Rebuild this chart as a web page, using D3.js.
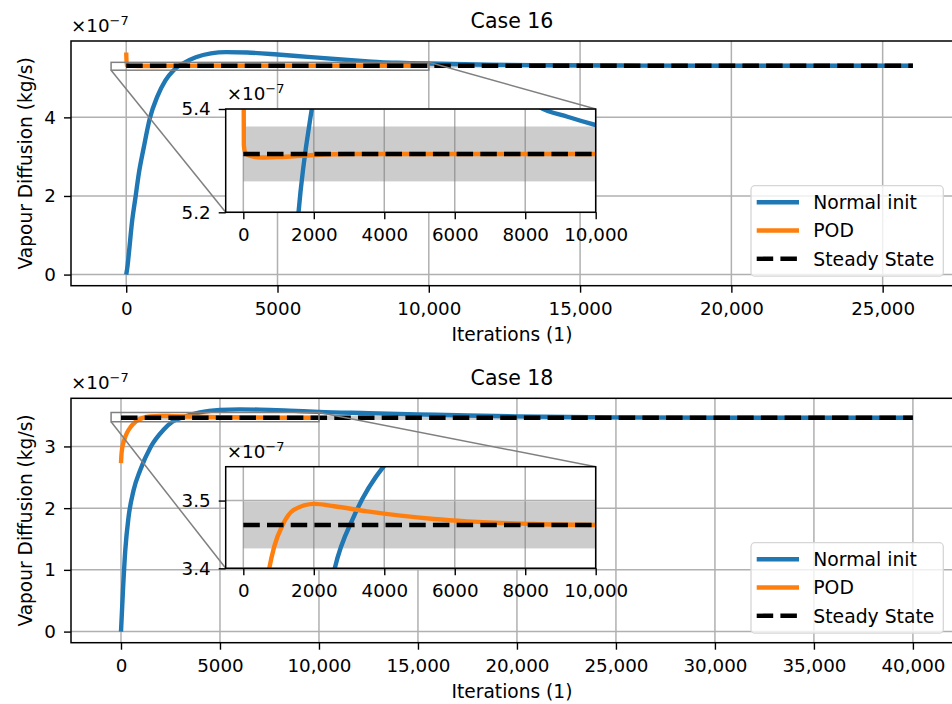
<!DOCTYPE html>
<html>
<head>
<meta charset="utf-8">
<script src="https://cdn.jsdelivr.net/npm/d3@7"></script>
<style>
  body { margin: 0; background: #fff; }
  svg text { font-family: "DejaVu Sans", sans-serif; fill: #000; }
</style>
</head>
<body>
<div id="chart"></div>
<script>
// values are in units of 1e-7 kg/s, x is the iteration count
const seriesNames = ["Normal init", "POD", "Steady State"];
const titles = ["Case 16", "Case 18"];

const case16Normal = [
  [0, 0], [40, 0.2], [86, 0.53], [198, 1.38], [307, 1.97], [416, 2.57], [581, 3.24],
  [779, 3.97], [1023, 4.52], [1297, 4.94], [1567, 5.2], [1943, 5.4], [2300, 5.53],
  [2800, 5.63], [3300, 5.66], [4000, 5.65], [5000, 5.6], [6000, 5.54], [7000, 5.48],
  [8000, 5.425], [8400, 5.404], [9200, 5.385], [10000, 5.369], [12000, 5.34],
  [14000, 5.325], [17000, 5.317], [20000, 5.314], [26000, 5.313]
];
const case16Pod = [
  [0, 5.65], [15, 5.33], [60, 5.315], [200, 5.309], [500, 5.306], [1000, 5.307],
  [2000, 5.311], [3000, 5.313], [10000, 5.313]
];
const case16Steady = 5.313;
const case16Iterations = [0, 26000];

const case18Normal = [
  [0, 0], [101, 0.675], [217, 1.32], [384, 1.86], [636, 2.29], [974, 2.62], [1479, 2.98],
  [2151, 3.27], [2595, 3.4], [3141, 3.477], [3990, 3.551], [5000, 3.59], [6000, 3.6],
  [7000, 3.596], [8500, 3.58], [10000, 3.56], [12500, 3.54], [15000, 3.52], [17500, 3.501],
  [20000, 3.487], [22500, 3.477], [25000, 3.471], [30000, 3.466], [35000, 3.4645], [40000, 3.464]
];
const case18Pod = [
  [0, 2.73], [20, 2.85], [60, 2.97], [150, 3.09], [300, 3.22], [500, 3.32], [736, 3.4],
  [877, 3.432], [1115, 3.464], [1443, 3.4866], [2009, 3.4951], [2575, 3.4916], [3520, 3.484],
  [4463, 3.4777], [5405, 3.4728], [6349, 3.4693], [7292, 3.4669], [8235, 3.4654], [10000, 3.464]
];
const case18Steady = 3.464;
const case18Iterations = [0, 40000];

// axis ticks
const case16XTicks = [0, 5000, 10000, 15000, 20000, 25000];
const case16YTicks = [0, 2, 4];
const case18XTicks = [0, 5000, 10000, 15000, 20000, 25000, 30000, 35000, 40000];
const case18YTicks = [0, 1, 2, 3];
const insetXTicks = [0, 2000, 4000, 6000, 8000, 10000];
const case16InsetYTicks = [5.2, 5.4];
const case18InsetYTicks = [3.4, 3.5];

// zoom window of the insets
const insetIterations = [-500, 10000];
const case16InsetY = [5.2, 5.4];
const case18InsetY = [3.4, 3.55];

const width = 952, height = 704;
const colors = {normal: "#1f77b4", pod: "#ff7f0e", steady: "#000"};
const lw = 4.4;
const dash = "16.5,7.2";
const fs = 18.3;

const svg = d3.create("svg")
  .attr("width", width)
  .attr("height", height);

const fmtX = d => d >= 10000 ? d3.format(",")(d) : String(d);

function drawPanel(p, idx) {
  const g = svg.append("g");

  const xMin = insetIterations[0];
  const xMax = d3.max(p.normal, d => d[0]);
  const xPad = 0.05 * (xMax - xMin);
  const yMax = d3.max(p.normal.concat(p.pod), d => d[1]);
  const yPad = 0.05 * yMax;

  const x = d3.scaleLinear().domain([xMin - xPad, xMax + xPad]).range([p.left, p.right]);
  const y = d3.scaleLinear().domain([-yPad, yMax + yPad]).range([p.bottom, p.top]);

  const clipId = "clip" + idx;
  svg.append("clipPath").attr("id", clipId)
    .append("rect")
    .attr("x", p.left).attr("y", p.top)
    .attr("width", p.right - p.left).attr("height", p.bottom - p.top);

  // grid
  g.append("g").selectAll("line").data(p.xTicks).join("line")
    .attr("x1", d => x(d)).attr("x2", d => x(d))
    .attr("y1", p.top).attr("y2", p.bottom)
    .attr("stroke", "#b0b0b0").attr("stroke-width", 1.5);
  g.append("g").selectAll("line").data(p.yTicks).join("line")
    .attr("x1", p.left).attr("x2", p.right)
    .attr("y1", d => y(d)).attr("y2", d => y(d))
    .attr("stroke", "#b0b0b0").attr("stroke-width", 1.5);

  // axes
  const xAxis = g.append("g")
    .attr("transform", `translate(0,${p.bottom})`)
    .call(d3.axisBottom(x).tickValues(p.xTicks).tickFormat(fmtX).tickSize(7).tickPadding(9));
  const yAxis = g.append("g")
    .attr("transform", `translate(${p.left},0)`)
    .call(d3.axisLeft(y).tickValues(p.yTicks).tickFormat(d3.format("d")).tickSize(7).tickPadding(8));
  [xAxis, yAxis].forEach(a => {
    a.select(".domain").remove();
    a.selectAll(".tick line").attr("stroke", "#000").attr("stroke-width", 1.4);
    a.selectAll(".tick text").attr("font-size", fs).attr("font-family", "DejaVu Sans");
  });

  const plot = g.append("g").attr("clip-path", `url(#${clipId})`);

  // +-1% band around steady state
  plot.append("rect")
    .attr("x", x(p.iterations[0]))
    .attr("width", x(p.iterations[1]) - x(p.iterations[0]))
    .attr("y", y(p.steady * 1.01))
    .attr("height", y(p.steady * 0.99) - y(p.steady * 1.01))
    .attr("fill", "gray").attr("opacity", 0.4);

  const line = d3.line().x(d => x(d[0])).y(d => y(d[1])).curve(d3.curveMonotoneX);

  plot.append("path").datum(p.normal)
    .attr("d", line).attr("fill", "none")
    .attr("stroke", colors.normal).attr("stroke-width", lw).attr("stroke-linejoin", "round");
  plot.append("path").datum(p.pod)
    .attr("d", line).attr("fill", "none")
    .attr("stroke", colors.pod).attr("stroke-width", lw).attr("stroke-linejoin", "round");
  plot.append("path").datum(p.iterations.map(i => [i, p.steady]))
    .attr("d", d3.line().x(d => x(d[0])).y(d => y(d[1])))
    .attr("fill", "none")
    .attr("stroke", colors.steady).attr("stroke-width", lw).attr("stroke-dasharray", dash);

  // zoom indicator rectangle
  const ix0 = x(insetIterations[0]), ix1 = x(insetIterations[1]);
  const iy0 = y(p.insetY[1]), iy1 = y(p.insetY[0]);
  g.append("rect")
    .attr("x", ix0).attr("y", iy0)
    .attr("width", ix1 - ix0).attr("height", iy1 - iy0)
    .attr("fill", "none").attr("stroke", "#808080").attr("stroke-width", 1.5);

  // frame
  g.append("rect")
    .attr("x", p.left).attr("y", p.top)
    .attr("width", p.right - p.left).attr("height", p.bottom - p.top)
    .attr("fill", "none").attr("stroke", "#000").attr("stroke-width", 1.5);

  // legend
  const lg = g.append("g").attr("transform", `translate(751,${p.legendTop})`);
  lg.append("rect")
    .attr("width", 192.3).attr("height", 90.5).attr("rx", 4)
    .attr("fill", "#fff").attr("fill-opacity", 0.8)
    .attr("stroke", "#d6d6d6").attr("stroke-width", 1.3);
  const legendStyles = [
    {color: colors.normal, dash: null},
    {color: colors.pod, dash: null},
    {color: colors.steady, dash: dash}
  ];
  seriesNames.forEach((name, i) => {
    const cy = 16.5 + i * 28.3;
    lg.append("line")
      .attr("x1", 5.7).attr("x2", 48).attr("y1", cy).attr("y2", cy)
      .attr("stroke", legendStyles[i].color).attr("stroke-width", lw)
      .attr("stroke-dasharray", legendStyles[i].dash);
    lg.append("text")
      .attr("x", 62.3).attr("y", cy + 6.8)
      .attr("font-size", 18.8)
      .text(name);
  });

  // titles and labels
  const cx = (p.left + 953) / 2;
  g.append("text")
    .attr("x", cx).attr("y", p.top - 13)
    .attr("text-anchor", "middle").attr("font-size", 20.5)
    .text(p.title);
  g.append("text")
    .attr("x", cx).attr("y", p.bottom + 55.5)
    .attr("text-anchor", "middle").attr("font-size", 18.6)
    .text("Iterations (1)");
  g.append("text")
    .attr("transform", `translate(31.5,${(p.top + p.bottom) / 2}) rotate(-90)`)
    .attr("text-anchor", "middle").attr("font-size", 18.6)
    .text("Vapour Diffusion (kg/s)");
  offsetText(g, p.left, p.top - 9);

  // inset
  const ins = p.inset;
  const xi = d3.scaleLinear().domain(insetIterations).range([ins.left, ins.right]);
  const yi = d3.scaleLinear().domain(p.insetY).range([ins.bottom, ins.top]);

  // connector lines, corner to corner
  g.append("line")
    .attr("x1", ix1).attr("y1", iy0).attr("x2", ins.right).attr("y2", ins.top)
    .attr("stroke", "#808080").attr("stroke-width", 1.5);
  g.append("line")
    .attr("x1", ix0).attr("y1", iy1).attr("x2", ins.left).attr("y2", ins.bottom)
    .attr("stroke", "#808080").attr("stroke-width", 1.5);

  const ig = g.append("g");
  ig.append("rect")
    .attr("x", ins.left).attr("y", ins.top)
    .attr("width", ins.right - ins.left).attr("height", ins.bottom - ins.top)
    .attr("fill", "#fff");

  const iclip = "iclip" + idx;
  svg.append("clipPath").attr("id", iclip)
    .append("rect")
    .attr("x", ins.left).attr("y", ins.top)
    .attr("width", ins.right - ins.left).attr("height", ins.bottom - ins.top);

  ig.append("g").selectAll("line").data(insetXTicks).join("line")
    .attr("x1", d => xi(d)).attr("x2", d => xi(d))
    .attr("y1", ins.top).attr("y2", ins.bottom)
    .attr("stroke", "#b0b0b0").attr("stroke-width", 1.5);
  ig.append("g").selectAll("line").data(p.insetYTicks).join("line")
    .attr("x1", ins.left).attr("x2", ins.right)
    .attr("y1", d => yi(d)).attr("y2", d => yi(d))
    .attr("stroke", "#b0b0b0").attr("stroke-width", 1.5);

  const ip = ig.append("g").attr("clip-path", `url(#${iclip})`);
  ip.append("rect")
    .attr("x", xi(p.iterations[0]))
    .attr("width", xi(p.iterations[1]) - xi(p.iterations[0]))
    .attr("y", yi(p.steady * 1.01))
    .attr("height", yi(p.steady * 0.99) - yi(p.steady * 1.01))
    .attr("fill", "gray").attr("opacity", 0.4);

  const iline = d3.line().x(d => xi(d[0])).y(d => yi(d[1])).curve(d3.curveMonotoneX);
  ip.append("path").datum(p.normal)
    .attr("d", iline).attr("fill", "none")
    .attr("stroke", colors.normal).attr("stroke-width", lw);
  ip.append("path").datum(p.pod)
    .attr("d", iline).attr("fill", "none")
    .attr("stroke", colors.pod).attr("stroke-width", lw);
  ip.append("path").datum(p.iterations.map(i => [i, p.steady]))
    .attr("d", d3.line().x(d => xi(d[0])).y(d => yi(d[1])))
    .attr("fill", "none")
    .attr("stroke", colors.steady).attr("stroke-width", lw).attr("stroke-dasharray", dash);

  const ixAxis = ig.append("g")
    .attr("transform", `translate(0,${ins.bottom})`)
    .call(d3.axisBottom(xi).tickValues(insetXTicks).tickFormat(fmtX).tickSize(7).tickPadding(9));
  const iyAxis = ig.append("g")
    .attr("transform", `translate(${ins.left},0)`)
    .call(d3.axisLeft(yi).tickValues(p.insetYTicks).tickFormat(d3.format(".1f")).tickSize(7).tickPadding(8));
  [ixAxis, iyAxis].forEach(a => {
    a.select(".domain").remove();
    a.selectAll(".tick line").attr("stroke", "#000").attr("stroke-width", 1.4);
    a.selectAll(".tick text").attr("font-size", fs).attr("font-family", "DejaVu Sans");
  });

  ig.append("rect")
    .attr("x", ins.left).attr("y", ins.top)
    .attr("width", ins.right - ins.left).attr("height", ins.bottom - ins.top)
    .attr("fill", "none").attr("stroke", "#000").attr("stroke-width", 1.5);
  offsetText(ig, ins.left + 1, ins.top - 9);
}

function offsetText(g, x, y) {
  const t = g.append("text").attr("x", x).attr("y", y).attr("font-size", fs);
  t.append("tspan").text("×10");
  t.append("tspan").attr("dy", -7).attr("font-size", 13).text("−7");
}

const panels = [
  {
    title: titles[0], normal: case16Normal, pod: case16Pod, steady: case16Steady,
    iterations: case16Iterations, xTicks: case16XTicks, yTicks: case16YTicks,
    insetY: case16InsetY, insetYTicks: case16InsetYTicks,
    left: 71, right: 953, top: 41, bottom: 285.7, legendTop: 185.7,
    inset: {left: 225.7, right: 595.7, top: 109, bottom: 212.3}
  },
  {
    title: titles[1], normal: case18Normal, pod: case18Pod, steady: case18Steady,
    iterations: case18Iterations, xTicks: case18XTicks, yTicks: case18YTicks,
    insetY: case18InsetY, insetYTicks: case18InsetYTicks,
    left: 71, right: 953, top: 398.3, bottom: 642.7, legendTop: 542.7,
    inset: {left: 225.7, right: 595.7, top: 466.7, bottom: 568.3}
  }
];

panels.forEach(drawPanel);

document.getElementById("chart").appendChild(svg.node());
</script>
</body>
</html>
